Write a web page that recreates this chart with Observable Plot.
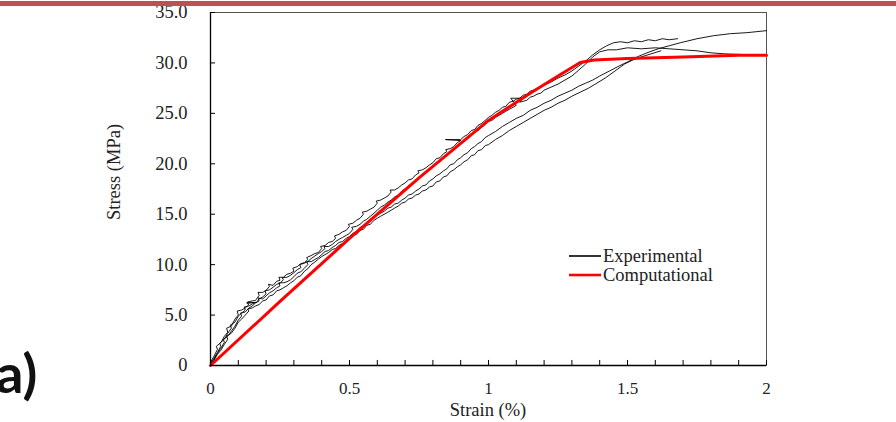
<!DOCTYPE html>
<html>
<head>
<meta charset="utf-8">
<script src="https://cdn.jsdelivr.net/npm/d3@7"></script>
<script src="https://cdn.jsdelivr.net/npm/@observablehq/plot@0.6"></script>
<style>
  html, body { margin: 0; padding: 0; background: #fff; }
  #wrap { position: relative; width: 896px; height: 422px; overflow: hidden; background: #fff; }
  #wrap svg { position: absolute; left: 0; top: 0; }
</style>
</head>
<body>
<div id="wrap"></div>
<script>
// ---- data ----
const yTicks = [0, 5, 10, 15, 20, 25, 30, 35];
const yTickLabels = ["0", "5.0", "10.0", "15.0", "20.0", "25.0", "30.0", "35.0"];
const xTicks = [0, 0.5, 1, 1.5, 2];
const xTickLabels = ["0", "0.5", "1", "1.5", "2"];
const xMinorTicks = [0, 0.1, 0.2, 0.3, 0.4, 0.5, 0.6, 0.7, 0.8, 0.9, 1.0, 1.1, 1.2, 1.3, 1.4, 1.5, 1.6, 1.7, 1.8, 1.9, 2.0];
const xTitle = "Strain (%)";
const yTitle = "Stress (MPa)";
const seriesNames = ["Experimental", "Computational"];
const panelLabel = "a)";

// Computational curve [strain %, stress MPa]
const computational = [[0,0],[0.25,6.35],[0.5,12.6],[0.75,18.6],[1.0,24.3],[1.15,27.0],[1.25,28.7],[1.33,30.05],[1.38,30.3],[1.5,30.45],[1.7,30.6],[1.9,30.75],[2.0,30.75]];

// Experimental specimens [strain %, stress MPa]
const exp1 = [[0,0.3],[0.012,0.9],[0.025,1.6],[0.021,1.9],[0.038,2.3],[0.05,2.9],[0.062,3.3],[0.058,3.7],[0.075,3.9],[0.088,4.6],[0.1,5.0],[0.096,5.4],[0.112,5.5],[0.125,5.7],[0.137,6.0],[0.133,6.3],[0.15,6.4],[0.162,6.45],[0.175,6.95],[0.171,7.25],[0.188,7.25],[0.2,7.45],[0.212,7.85],[0.208,8.05],[0.225,7.95],[0.238,8.35],[0.25,8.45],[0.246,8.75],[0.262,8.75],[0.275,9.05],[0.288,9.15],[0.3,9.35],[0.296,9.65],[0.312,9.8],[0.325,10.1],[0.338,10.2],[0.35,10.5],[0.346,10.7],[0.362,10.9],[0.375,11.1],[0.388,11.2],[0.4,11.6],[0.396,11.8],[0.412,11.9],[0.425,12.2],[0.438,12.3],[0.45,12.6],[0.446,12.85],[0.462,13.0],[0.475,13.25],[0.488,13.4],[0.5,13.8],[0.496,14.0],[0.512,14.1],[0.525,14.4],[0.538,14.6],[0.55,15.0],[0.546,15.2],[0.562,15.3],[0.575,15.5],[0.588,15.7],[0.6,16.1],[0.596,16.3],[0.612,16.4],[0.625,16.6],[0.638,16.8],[0.65,17.2],[0.646,17.4],[0.662,17.4],[0.675,17.6],[0.688,17.9],[0.7,18.1],[0.712,18.4],[0.725,18.5],[0.738,18.9],[0.75,19.1],[0.746,19.3],[0.762,19.4],[0.775,19.6],[0.788,19.9],[0.8,20.1],[0.812,20.5],[0.825,20.6],[0.838,21.0],[0.85,21.2],[0.846,21.4],[0.862,21.5],[0.875,21.7],[0.888,22.1],[0.9,22.3],[0.845,22.4],[0.9,22.4],[0.912,22.7],[0.925,22.9],[0.938,23.3],[0.95,23.4],[0.962,23.8],[0.975,24.0],[0.988,24.3],[1.0,24.6],[1.012,24.8],[1.025,25.1],[1.038,25.3],[1.05,25.6],[1.062,25.7],[1.075,26.1],[1.088,26.2],[1.1,26.4],[1.112,26.5],[1.125,26.8],[1.138,26.9],[1.15,27.2],[1.162,27.3],[1.175,27.5],[1.188,27.6],[1.2,27.8],[1.225,28.1],[1.25,28.5],[1.275,28.8],[1.3,29.2],[1.325,29.7],[1.35,30.2],[1.375,30.8],[1.4,31.3],[1.425,31.7],[1.45,32.0],[1.475,32.1],[1.5,32.0],[1.525,32.2],[1.55,32.1],[1.575,32.3],[1.6,32.2],[1.625,32.4],[1.65,32.3],[1.68,32.4]];
const exp2 = [[0,0.1],[0.012,0.7],[0.025,1.3],[0.037,1.9],[0.033,2.2],[0.05,2.6],[0.062,3.2],[0.075,3.7],[0.071,4.0],[0.088,4.3],[0.1,4.9],[0.112,5.2],[0.125,5.5],[0.121,5.8],[0.138,5.9],[0.15,6.1],[0.162,6.25],[0.13,6.2],[0.165,6.25],[0.175,6.6],[0.188,6.8],[0.2,7.1],[0.196,7.4],[0.212,7.5],[0.225,7.75],[0.238,8.05],[0.25,8.15],[0.262,8.5],[0.258,8.7],[0.275,8.75],[0.288,8.95],[0.3,9.2],[0.312,9.5],[0.325,9.7],[0.321,10.0],[0.338,10.15],[0.35,10.3],[0.362,10.6],[0.375,10.85],[0.388,11.1],[0.4,11.3],[0.412,11.6],[0.408,11.8],[0.425,11.8],[0.438,12.0],[0.45,12.3],[0.462,12.5],[0.475,12.7],[0.488,12.9],[0.5,13.1],[0.512,13.5],[0.508,13.7],[0.525,13.8],[0.538,14.0],[0.55,14.3],[0.562,14.5],[0.575,14.8],[0.588,15.1],[0.6,15.4],[0.612,15.7],[0.625,15.9],[0.638,16.2],[0.65,16.4],[0.662,16.7],[0.675,16.9],[0.688,17.3],[0.7,17.5],[0.712,17.8],[0.725,18.0],[0.738,18.3],[0.75,18.6],[0.762,18.9],[0.775,19.1],[0.788,19.5],[0.8,19.7],[0.812,20.0],[0.825,20.2],[0.838,20.6],[0.85,20.8],[0.862,21.1],[0.875,21.4],[0.888,21.7],[0.9,22.0],[0.912,22.2],[0.925,22.5],[0.938,22.8],[0.95,23.1],[0.962,23.3],[0.975,23.6],[0.988,23.9],[1.0,24.2],[1.012,24.3],[1.025,24.6],[1.038,24.8],[1.05,25.0],[1.062,25.2],[1.075,25.4],[1.088,25.6],[1.1,25.8],[1.08,26.5],[1.125,26.5],[1.112,26.1],[1.125,26.2],[1.138,26.3],[1.15,26.6],[1.162,26.7],[1.175,26.9],[1.188,27.0],[1.2,27.3],[1.225,27.6],[1.25,27.9],[1.275,28.3],[1.3,28.7],[1.325,29.3],[1.35,29.9],[1.375,30.6],[1.4,31.1],[1.43,31.3],[1.46,31.3],[1.5,31.5],[1.55,31.4],[1.6,31.5],[1.65,31.4],[1.7,31.3],[1.75,31.2],[1.8,31.0],[1.85,30.9],[1.9,30.85],[1.95,30.8],[2.0,30.8]];
const exp3 = [[0,0.2],[0.012,0.6],[0.025,1.2],[0.037,1.7],[0.05,2.3],[0.046,2.6],[0.062,2.9],[0.075,3.4],[0.088,3.9],[0.1,4.5],[0.112,4.9],[0.108,5.2],[0.125,5.3],[0.138,5.7],[0.15,5.9],[0.162,6.2],[0.175,6.4],[0.171,6.7],[0.188,6.6],[0.2,6.9],[0.212,7.2],[0.225,7.4],[0.238,7.7],[0.25,7.9],[0.246,8.2],[0.262,8.2],[0.275,8.3],[0.288,8.5],[0.3,8.8],[0.312,9.15],[0.325,9.3],[0.338,9.65],[0.35,10.0],[0.346,10.3],[0.362,10.3],[0.375,10.5],[0.388,10.7],[0.4,11.0],[0.412,11.3],[0.425,11.4],[0.438,11.7],[0.45,11.9],[0.462,12.2],[0.475,12.3],[0.488,12.6],[0.5,12.8],[0.512,13.1],[0.525,13.3],[0.538,13.7],[0.55,13.8],[0.562,14.1],[0.575,14.3],[0.588,14.7],[0.6,14.9],[0.612,15.1],[0.625,15.3],[0.638,15.6],[0.65,15.7],[0.662,16.0],[0.675,16.1],[0.688,16.4],[0.7,16.6],[0.712,16.9],[0.725,17.0],[0.738,17.3],[0.75,17.5],[0.762,17.8],[0.775,17.9],[0.788,18.3],[0.8,18.5],[0.812,18.8],[0.825,19.0],[0.838,19.3],[0.85,19.5],[0.862,19.9],[0.875,20.0],[0.888,20.4],[0.9,20.6],[0.912,20.9],[0.925,21.1],[0.938,21.5],[0.95,21.7],[0.962,22.0],[0.975,22.2],[0.988,22.6],[1.0,22.8],[1.025,23.2],[1.05,23.7],[1.075,24.1],[1.1,24.5],[1.125,24.8],[1.15,25.3],[1.175,25.6],[1.2,26.0],[1.225,26.3],[1.25,26.7],[1.275,27.0],[1.3,27.3],[1.325,27.7],[1.35,28.0],[1.375,28.3],[1.4,28.7],[1.435,29.2],[1.47,29.7],[1.5,30.1],[1.535,30.6],[1.57,31.0],[1.61,31.4],[1.65,31.7],[1.69,32.0],[1.75,32.4],[1.81,32.7],[1.87,32.9],[1.93,33.0],[2.0,33.2]];
const exp4 = [[0,0],[0.012,0.5],[0.025,1.1],[0.037,1.5],[0.05,2.1],[0.062,2.6],[0.058,2.9],[0.075,3.2],[0.088,3.7],[0.1,4.3],[0.112,4.6],[0.125,5.0],[0.138,5.4],[0.134,5.6],[0.15,5.7],[0.162,5.9],[0.175,6.05],[0.188,6.4],[0.2,6.5],[0.212,6.9],[0.225,7.0],[0.238,7.4],[0.25,7.5],[0.262,7.7],[0.275,7.9],[0.288,8.2],[0.3,8.4],[0.312,8.75],[0.325,8.9],[0.338,9.35],[0.35,9.6],[0.362,10.0],[0.375,10.25],[0.388,10.55],[0.4,10.8],[0.412,11.0],[0.425,11.2],[0.438,11.5],[0.45,11.6],[0.462,11.9],[0.475,12.1],[0.488,12.4],[0.5,12.5],[0.512,12.9],[0.525,13.0],[0.538,13.4],[0.55,13.5],[0.562,13.9],[0.575,14.0],[0.588,14.4],[0.6,14.6],[0.612,14.8],[0.625,15.0],[0.638,15.2],[0.65,15.4],[0.662,15.6],[0.675,15.8],[0.688,16.1],[0.7,16.2],[0.712,16.5],[0.725,16.6],[0.738,16.9],[0.75,17.0],[0.762,17.3],[0.775,17.4],[0.788,17.7],[0.8,17.8],[0.812,18.2],[0.825,18.3],[0.838,18.7],[0.85,18.8],[0.862,19.2],[0.875,19.4],[0.888,19.7],[0.9,19.9],[0.912,20.2],[0.925,20.4],[0.938,20.8],[0.95,20.9],[0.962,21.3],[0.975,21.4],[0.988,21.8],[1.0,21.9],[1.025,22.4],[1.05,22.8],[1.075,23.3],[1.1,23.7],[1.125,24.1],[1.15,24.5],[1.175,24.9],[1.2,25.3],[1.225,25.6],[1.25,26.0],[1.275,26.3],[1.3,26.7],[1.33,27.1],[1.36,27.5],[1.39,28.0],[1.42,28.5],[1.455,29.2],[1.49,29.9],[1.52,30.3],[1.55,30.6],[1.585,30.9],[1.62,31.2]];

const experimental = [exp1, exp2, exp3, exp4];

// ---- chart ----
const serif = "'Liberation Serif', 'Times New Roman', serif";
const W = 896, H = 422;
const mL = 210, mR = 130, mT = 12, mB = 57;

const lineMarks = experimental.map(s =>
  Plot.line(s, {x: d => d[0], y: d => d[1], stroke: "#000", strokeWidth: 0.9, strokeLinejoin: "round"})
);

const chart = Plot.plot({
  width: W, height: H,
  marginLeft: mL, marginRight: mR, marginTop: mT, marginBottom: mB,
  style: {fontFamily: serif, background: "transparent", color: "#222", overflow: "visible"},
  x: {domain: [0, 2]},
  y: {domain: [0, 35]},
  marks: [
    Plot.frame({stroke: "#555", strokeWidth: 1}),
    ...lineMarks,
    Plot.line(computational, {x: d => d[0], y: d => d[1], stroke: "#ff0000", strokeWidth: 3}),
    Plot.ruleX(xMinorTicks, {y1: 0, y2: 0.5, stroke: "#000", strokeWidth: 1}),
    Plot.ruleY(yTicks, {x1: 0, x2: 0.018, stroke: "#000", strokeWidth: 1}),
    Plot.ruleX([0], {stroke: "#000", strokeWidth: 1.3}),
    Plot.ruleY([0], {stroke: "#000", strokeWidth: 1.3}),
    Plot.axisX(xTicks, {tickSize: 0, tickPadding: 16, fontSize: 17, tickFormat: (d, i) => xTickLabels[i], label: null}),
    Plot.axisY(yTicks, {tickSize: 0, tickPadding: 23, fontSize: 18.5, tickFormat: (d, i) => yTickLabels[i], label: null})
  ]
});
document.getElementById("wrap").appendChild(chart);

// ---- overlay: titles, legend, panel label, header bar ----
const ov = d3.create("svg").attr("width", W).attr("height", H).attr("viewBox", `0 0 ${W} ${H}`);
ov.append("rect").attr("x", 0).attr("y", 1).attr("width", W).attr("height", 5).attr("fill", "#c0504d");
ov.append("text").attr("transform", "translate(120,172) rotate(-90)").attr("text-anchor", "middle")
  .attr("font-family", serif).attr("font-size", 18.5).attr("fill", "#222").text(yTitle);
ov.append("text").attr("x", 488).attr("y", 416).attr("text-anchor", "middle")
  .attr("font-family", serif).attr("font-size", 18.5).attr("fill", "#222").text(xTitle);
const legColors = ["#000", "#ff0000"];
const legWidths = [1.6, 2.6];
seriesNames.forEach((name, i) => {
  const yy = 256 + i * 19;
  ov.append("line").attr("x1", 569).attr("x2", 601).attr("y1", yy).attr("y2", yy)
    .attr("stroke", legColors[i]).attr("stroke-width", legWidths[i]);
  ov.append("text").attr("x", 603).attr("y", yy + 6).attr("font-family", serif).attr("font-size", 18.5)
    .attr("fill", "#222").text(name);
});
ov.append("text").attr("x", -4).attr("y", 393).attr("font-family", "Lato, 'Open Sans', sans-serif")
  .attr("font-weight", 700).attr("font-size", 54).attr("fill", "#111").text(panelLabel);
document.getElementById("wrap").appendChild(ov.node());
</script>
</body>
</html>
